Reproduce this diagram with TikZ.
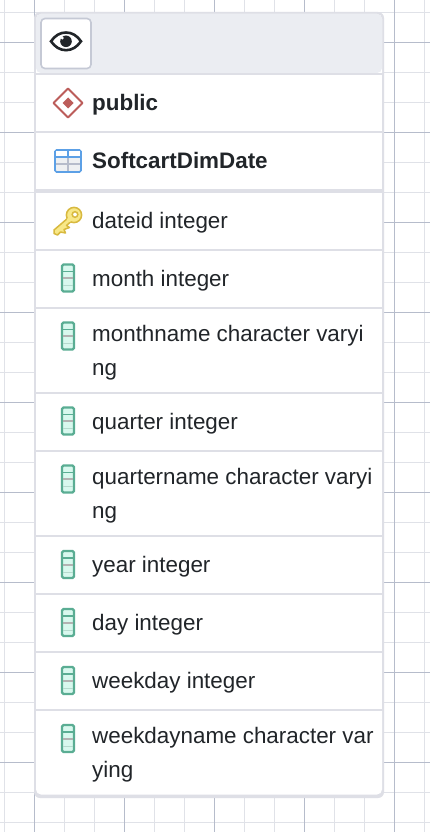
\documentclass[tikz,border=0pt]{standalone}
\usepackage{fontspec}
\setmainfont{Liberation Sans}
\definecolor{gridminor}{HTML}{E0E2E8}
\definecolor{gridmajor}{HTML}{B6BCCB}
\definecolor{cardline}{HTML}{DEDFE6}
\definecolor{headfill}{HTML}{EBEDF2}
\definecolor{inktext}{HTML}{212529}
\definecolor{colline}{HTML}{5AAD93}
\definecolor{colfill}{HTML}{D8F8EE}
\definecolor{keyline}{HTML}{D8B93F}
\definecolor{keyfill}{HTML}{F8E888}
\definecolor{schemaline}{HTML}{BC5D5A}
\definecolor{tableline}{HTML}{5CA0E6}
\definecolor{tablefill}{HTML}{EEF0F2}
\tikzset{
  rowbox/.style={draw=cardline,line width=1.8pt,fill=white,minimum width=348pt,inner sep=0pt,outer sep=0pt},
  rowtext/.style={anchor=base west,inner sep=0pt,align=left,text=inktext,font=\fontsize{22.4}{34}\selectfont},
  boldtext/.style={rowtext,font=\fontsize{22.4}{34}\selectfont\bfseries},
  colicon/.pic={
    \draw[colline,line width=2.2pt,fill=colfill,rounded corners=1.5pt] (-6,-13.5) rectangle (6,13.5);
    \fill[colline] (-5,-7.2) rectangle (5,-5.8);
    \fill[black!30] (-5,-1) rectangle (5,1);
    \fill[colline!45] (-5,7) rectangle (5,8.2);
  }
}
\begin{document}
\begin{tikzpicture}[x=1pt,y=-1pt]
  \useasboundingbox[fill=white] (0,0) rectangle (430,832);
  % grid
  \foreach \x in {4.5,34.5,...,424.5} \draw[gridminor,line width=1pt] (\x,0) -- (\x,832);
  \foreach \y in {12.3,42.3,...,822.3} \draw[gridminor,line width=1pt] (0,\y) -- (430,\y);
  \foreach \x in {34.5,124.5,214.5,304.5,394.5} \draw[gridmajor,line width=1pt] (\x,0) -- (\x,832);
  \foreach \y in {42.3,132.3,...,762.3} \draw[gridmajor,line width=1pt] (0,\y) -- (430,\y);

  % card
  \fill[cardline,rounded corners=6pt] (34,12) rectangle (384,798);
  \fill[white,rounded corners=5pt] (36,14) rectangle (382,794.5);
  \fill[headfill,rounded corners=5pt] (36,14) -- (382,14) -- (382,73) -- (36,73) -- cycle;

  % rows
  \node[rowbox,minimum height=58pt] (schemarow) at (209,103) {};
  \node[rowbox,minimum height=58pt] (tablerow) at (209,161) {};
  \node[rowbox,minimum height=58pt] (dateidrow) at (209,221) {};
  \node[rowbox,minimum height=58pt] (monthrow) at (209,279) {};
  \node[rowbox,minimum height=85pt] (monthnamerow) at (209,350.5) {};
  \node[rowbox,minimum height=58pt] (quarterrow) at (209,422) {};
  \node[rowbox,minimum height=85pt] (quarternamerow) at (209,493.5) {};
  \node[rowbox,minimum height=58pt] (yearrow) at (209,565) {};
  \node[rowbox,minimum height=58pt] (dayrow) at (209,623) {};
  \node[rowbox,minimum height=58pt] (weekdayrow) at (209,681) {};
  \draw[cardline,line width=3pt] (tablerow.south west) -- (tablerow.south east);

  % labels
  \node[boldtext] (schemalabel) at (92,111) {public};
  \node[boldtext] (tablelabel) at (92,168.5) {SoftcartDimDate};
  \node[rowtext] (dateidlabel) at (92,228) {dateid integer};
  \node[rowtext] (monthlabel) at (92,286) {month integer};
  \node[rowtext] (monthnamelabel) at (92,375) {monthname character varyi\\ng};
  \node[rowtext] (quarterlabel) at (92,429) {quarter integer};
  \node[rowtext] (quarternamelabel) at (92,518) {quartername character varyi\\ng};
  \node[rowtext] (yearlabel) at (92,572) {year integer};
  \node[rowtext] (daylabel) at (92,630) {day integer};
  \node[rowtext] (weekdaylabel) at (92,688) {weekday integer};
  \node[rowtext] (weekdaynamelabel) at (92,777) {weekdayname character var\\ying};

  % eye button
  \node[draw=gridmajor!80,line width=1.6pt,fill=white,rounded corners=4pt,minimum width=50pt,minimum height=50pt,inner sep=0pt] (eyebutton) at (66,43.5) {};
  \draw[inktext,line width=2.6pt] (51,41.3) .. controls (55,35.5) and (60,32.5) .. (66,32.5) .. controls (72,32.5) and (77,35.5) .. (81,41.3) .. controls (77,47) and (72,50.2) .. (66,50.2) .. controls (60,50.2) and (55,47) .. (51,41.3) -- cycle;
  \fill[inktext] (66,41.3) circle (5.8pt);
  \fill[white] (62.3,38) circle (1.6pt);

  % schema and table icons
  \draw[schemaline,line width=1.8pt,fill=white,line join=round] (68,88.5) -- (82.5,103) -- (68,117.5) -- (53.5,103) -- cycle;
  \fill[schemaline] (68,97.5) -- (73.5,103) -- (68,108.5) -- (62.5,103) -- cycle;
  \draw[tableline,line width=1.6pt,fill=tablefill,rounded corners=1.5pt] (55,150) rectangle (81,172);
  \fill[white] (55.8,150.8) rectangle (80.2,157);
  \draw[gridmajor,line width=1.2pt] (55.8,164) -- (80.2,164) (68,157) -- (68,171.2);
  \draw[tableline,line width=1.4pt] (55,157) -- (81,157) (68,150) -- (68,157);

  % key icon
  \draw[keyline,line width=1.5pt,fill=keyfill,line join=round] (68,218) -- (54,230) -- (54,233.5) -- (57.5,235) -- (60.5,232) -- (65.5,233) -- (64,229.5) -- (69.5,227.5) -- (66.5,225.5) -- (71,221.5) -- cycle;
  \draw[keyline,line width=1.5pt,fill=keyfill] (74,215) circle (7.6pt);
  \fill[keyfill] (69,220) circle (2.2pt);
  \draw[keyline,line width=1.5pt,fill=white] (75,214.5) circle (2.8pt);

  % column icons
  \foreach \y in {278,336,421,479,564.5,622.5,680.5,738.5} \pic at (68,\y) {colicon};
\end{tikzpicture}
\end{document}
